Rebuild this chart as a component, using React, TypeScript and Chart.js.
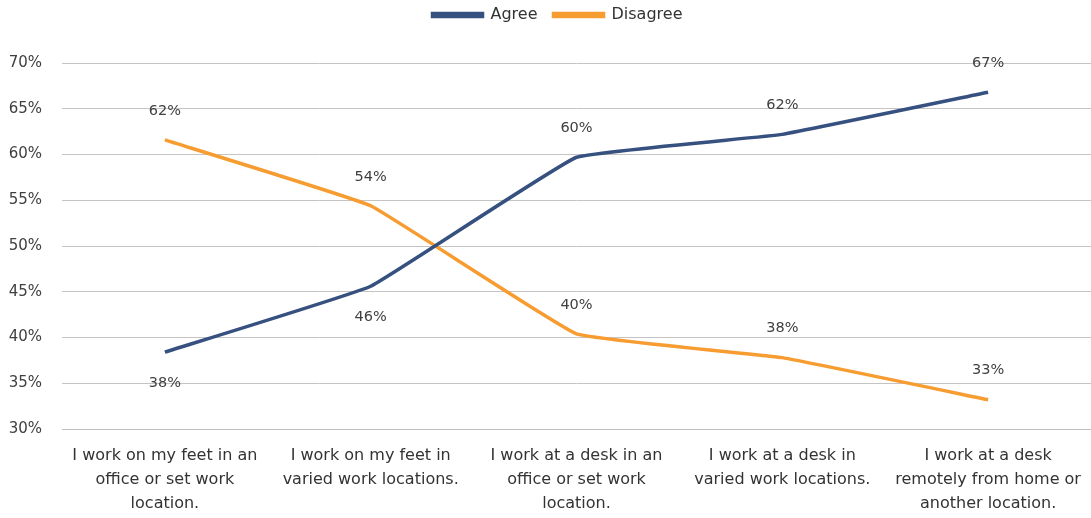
import React, { useEffect, useRef } from "react";
import { Chart, registerables } from "chart.js";

Chart.register(...registerables);

const categories: string[][] = [
  ["I work on my feet in an", "office or set work", "location."],
  ["I work on my feet in", "varied work locations."],
  ["I work at a desk in an", "office or set work", "location."],
  ["I work at a desk in", "varied work locations."],
  ["I work at a desk", "remotely from home or", "another location."],
];
const agree: number[] = [38.4, 45.6, 59.7, 62.2, 66.8];
const disagree: number[] = [61.6, 54.4, 40.4, 37.8, 33.2];
const yTicks: number[] = [30, 35, 40, 45, 50, 55, 60, 65, 70];

const FONT = "'DejaVu Sans', sans-serif";

const labelPlugin = {
  id: "pointLabels",
  afterDatasetsDraw(chart: any) {
    const ctx = chart.ctx;
    ctx.save();
    ctx.font = `14.5px ${FONT}`;
    ctx.fillStyle = "#404040";
    ctx.textAlign = "center";
    ctx.textBaseline = "middle";
    chart.data.datasets.forEach((ds: any, di: number) => {
      const meta = chart.getDatasetMeta(di);
      const other = chart.data.datasets[1 - di].data as number[];
      meta.data.forEach((pt: any, i: number) => {
        const v = ds.data[i] as number;
        const below = ds.labelBelowWhenLower && v < other[i];
        const y = below ? pt.y + 31 : pt.y - 29;
        ctx.fillText(Math.round(v) + "%", pt.x, y);
      });
    });
    ctx.restore();
  },
};

const legendSpace = {
  id: "legendSpace",
  beforeInit(chart: any) {
    if (!chart.legend) return;
    const orig = chart.legend.fit;
    chart.legend.fit = function () {
      orig.bind(chart.legend)();
      this.height += 21;
    };
  },
  afterLayout(chart: any) {
    if (!chart.legend) return;
    chart.legend.top -= 9;
    chart.legend.bottom -= 9;
    chart.legend.left += 12;
    chart.legend.right += 12;
  },
};

export default function App() {
  const ref = useRef<HTMLCanvasElement>(null);
  useEffect(() => {
    if (!ref.current) return;
    const chart = new Chart(ref.current, {
      type: "line",
      data: {
        labels: categories as any,
        datasets: [
          {
            label: "Agree",
            data: agree,
            borderColor: "#36517f",
            backgroundColor: "#36517f",
            borderWidth: 3.5,
            pointRadius: 0,
            tension: 0.08,
            labelBelowWhenLower: true,
          } as any,
          {
            label: "Disagree",
            data: disagree,
            borderColor: "#f79c31",
            backgroundColor: "#f79c31",
            borderWidth: 3.5,
            pointRadius: 0,
            tension: 0.08,
            labelBelowWhenLower: false,
          } as any,
        ],
      },
      options: {
        animation: false,
        responsive: true,
        maintainAspectRatio: false,
        layout: { padding: { left: 0, right: 0, top: 0, bottom: 0 } },
        plugins: {
          legend: {
            position: "top",
            labels: {
              boxWidth: 50,
              boxHeight: 3,
              padding: 16,
              color: "#333",
              font: { family: FONT, size: 16 },
            },
          },
          tooltip: { enabled: false },
        },
        scales: {
          x: {
            offset: true,
            afterFit: (s: any) => {
              s.height = 89;
              s.paddingLeft = 0;
              s.paddingRight = 0;
            },
            grid: { display: false, drawTicks: false },
            border: { display: true, color: "#bfbfbf" },
            ticks: {
              color: "#333",
              font: { family: FONT, size: 16, lineHeight: 1.5 },
              padding: 15,
              maxRotation: 0,
              autoSkip: false,
            },
          },
          y: {
            min: 30,
            max: 70,
            afterFit: (s: any) => {
              s.width = 62;
            },
            afterBuildTicks: (axis: any) => {
              axis.ticks = yTicks.map((v) => ({ value: v }));
            },
            grid: { color: "#c4c4c4", drawTicks: false },
            border: { display: false },
            ticks: {
              color: "#404040",
              font: { family: FONT, size: 15 },
              padding: 20,
              callback: (v: any) => v + "%",
            },
          },
        },
      },
      plugins: [legendSpace, labelPlugin],
    });
    return () => chart.destroy();
  }, []);
  return (
    <div style={{ position: "fixed", left: 0, top: 0, width: 1091, height: 518, background: "#fff" }}>
      <canvas ref={ref} />
    </div>
  );
}
